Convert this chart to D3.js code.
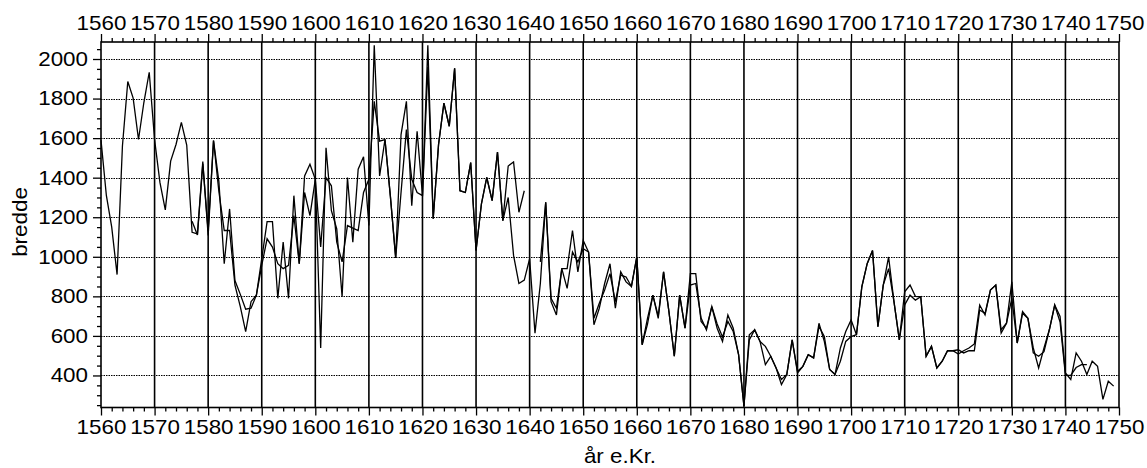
<!DOCTYPE html>
<html><head><meta charset="utf-8">
<script src="https://cdn.jsdelivr.net/npm/d3@7/dist/d3.min.js"></script>
<style>
body{margin:0;background:#fff}
text{font-family:"Liberation Sans",Arial,sans-serif;fill:#000}
</style>
</head><body>
<svg id="chart" width="1147" height="468"></svg>
<script>
// ---- data ----
const startA = 1560;
const seriesA = [1590,1310,1150,910,1560,1886,1802,1593,1780,1933,
1593,1376,1237,1484,1568,1680,1565,1124,1116,1481,
1108,1588,1380,965,1242,880,810,735,740,806,
990,1178,1178,790,1074,790,1309,965,1409,1468,
1392,539,1551,1233,1141,798,1401,1074,1443,1506,
1158,2070,1409,1593,1309,994,1618,1786,1258,1635,
1309,2070,1193,1568,1777,1660,1953,1334,1325,1476,
1032,1267,1401,1284,1530,1183,1459,1479,1225,1334];

const startB = 1577;
const seriesB = [1180,1110,1470,
1130,1588,1330,1133,1133,857,748,622,773,806,
957,1091,1049,965,940,957,1208,965,1325,1208,
1392,1050,1400,1359,1074,974,1158,1145,1133,1325,
1392,1786,1585,1593,1309,994,1325,1643,1392,1325,
1309,1960,1193,1568,1777,1660,1953,1334,1325,1476,
1032,1267,1401,1284,1530,1183,1300,1007,865,882,
990,614,865,1275,773,706,940,940,1133,924,
1083,1024,656,740,865,965,740,924,873,850,
999,555,689,806,689,924,723,497,806,639,
915,915,673,639,748,639,572,706,639,505,
246,580,631,572,455,497,438,354,405,580,
421,446,505,489,664,572,430,405,539,622,
681,606,848,965,1032,647,857,999,773,580,
756,806,781,798,497,547,438,472,525,525,
508,525,539,559,756,706,832,857,614,664,
873,564,723,689,539,438,539,631,756,698,
413,380,514,472,405,472,446,279,371,346];

const startC = 1642;
const seriesC = [974,1275,790,740,940,840,1024,974,
1041,1024,689,765,832,915,773,907,898,850,
999,555,660,806,700,924,723,497,806,639,
857,865,690,630,748,660,595,673,622,505,
246,606,631,572,547,497,438,380,405,580,
413,446,505,489,648,597,430,405,472,572,
597,606,848,965,1032,647,857,940,773,580,
823,857,800,798,497,547,438,472,525,525,
530,514,525,525,731,714,832,857,631,664,
790,564,715,689,514,497,520,631,756,670,
400,400,440,455,455];

const xMajorTicks = d3.range(1560, 1751, 10);
const xMinorTicks = d3.range(1560, 1751, 2).filter(d => d % 10 !== 0);
const yMajorTicks = d3.range(400, 2001, 200);
const yMinorTicks = d3.range(250, 2086, 50).filter(d => d % 200 !== 0);
const xTitle = "år e.Kr.";
const yTitle = "bredde";

// ---- layout ----
const L = 101, R = 1119, T = 42, B = 407.5;
const svg = d3.select("#chart");
const x = d3.scaleLinear().domain([1560, 1750]).range([L, R]);
const y = d3.scaleLinear().domain([238, 2086]).range([B, T]);
const SX = 1.12;

// horizontal dotted grid
svg.append("g").selectAll("line").data(yMajorTicks).join("line")
  .attr("x1", L).attr("x2", R).attr("y1", d => Math.round(y(d)) + 0.5).attr("y2", d => Math.round(y(d)) + 0.5)
  .attr("stroke", "#000").attr("stroke-width", 1.2).attr("stroke-dasharray", "1.5,1");
// vertical solid grid
svg.append("g").selectAll("line").data(xMajorTicks.slice(1, -1)).join("line")
  .attr("x1", d => x(d)).attr("x2", d => x(d)).attr("y1", T).attr("y2", B)
  .attr("stroke", "#000").attr("stroke-width", 1.6);

// series
const mk = (start, vals) => vals.map((v, i) => ({yr: start + i, v}));
const line = d3.line().x(d => x(d.yr)).y(d => y(d.v));
[[startA, seriesA], [startB, seriesB], [startC, seriesC]].forEach(([s, v]) => {
  svg.append("path").datum(mk(s, v)).attr("d", line)
    .attr("fill", "none").attr("stroke", "#000").attr("stroke-width", 1.3)
    .attr("stroke-linejoin", "miter");
});

// frame
svg.append("rect").attr("x", L).attr("y", T).attr("width", R - L).attr("height", B - T)
  .attr("fill", "none").attr("stroke", "#000").attr("stroke-width", 1.6);

function styleAxis(g) {
  g.select(".domain").remove();
  g.selectAll(".tick line").attr("stroke", "#000").attr("stroke-width", 1.3);
  g.selectAll("text").attr("font-size", 20).attr("fill", "#000")
    .attr("font-family", '"Liberation Sans",Arial,sans-serif');
}

// bottom axis
const gb = svg.append("g").attr("transform", `translate(0,${B})`);
gb.append("g").call(d3.axisBottom(x).tickValues(xMinorTicks).tickSize(4).tickFormat("")).call(styleAxis);
const gbm = gb.append("g").call(d3.axisBottom(x).tickValues(xMajorTicks).tickSize(8).tickPadding(4).tickFormat(d3.format("d"))).call(styleAxis);
gbm.selectAll("text").attr("transform", `scale(${SX},1)`);

// top axis
const gt = svg.append("g").attr("transform", `translate(0,${T})`);
gt.append("g").call(d3.axisTop(x).tickValues(xMinorTicks).tickSize(4).tickFormat("")).call(styleAxis);
const gtm = gt.append("g").call(d3.axisTop(x).tickValues(xMajorTicks).tickSize(8).tickPadding(4).tickFormat(d3.format("d"))).call(styleAxis);
gtm.selectAll("text").attr("transform", `scale(${SX},1)`);

// left axis
const gl = svg.append("g").attr("transform", `translate(${L},0)`);
gl.append("g").call(d3.axisLeft(y).tickValues(yMinorTicks).tickSize(4).tickFormat("")).call(styleAxis);
const glm = gl.append("g").call(d3.axisLeft(y).tickValues(yMajorTicks).tickSize(8).tickPadding(5).tickFormat(d3.format("d"))).call(styleAxis);
glm.selectAll("text").attr("transform", `scale(${SX},1)`).attr("x", -13 / SX);

// titles
svg.append("text").attr("transform", `translate(620,463) scale(${SX},1)`)
  .attr("text-anchor", "middle").attr("font-size", 20).text(xTitle);
svg.append("text").attr("transform", `translate(27,222) rotate(-90) scale(${SX},1)`)
  .attr("text-anchor", "middle").attr("font-size", 20).text(yTitle);
</script>
</body></html>
